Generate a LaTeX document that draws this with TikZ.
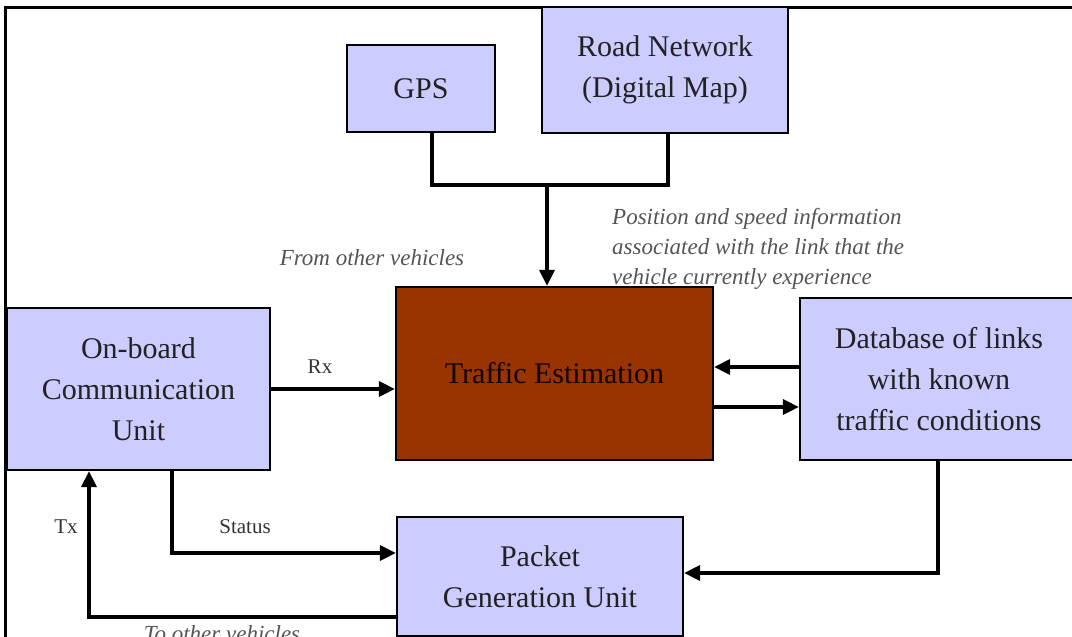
\documentclass[tikz,border=0pt]{standalone}
\usepackage{fontspec}
\setmainfont{Liberation Serif}
\usetikzlibrary{arrows.meta}
\definecolor{boxblue}{HTML}{CCCCFF}
\definecolor{tebrown}{HTML}{993300}
\definecolor{lblgray}{HTML}{555555}
\definecolor{txtdark}{HTML}{222222}
\begin{document}
\begin{tikzpicture}[x=1pt,y=-1pt,
  blk/.style={draw=black, line width=2.2pt, fill=boxblue, align=center,
    font=\fontsize{30}{41}\selectfont, text=txtdark, inner sep=0pt},
  conn/.style={line width=3.2pt, draw=black},
  arr/.style={conn, -{Triangle[length=16pt,width=15pt]}},
  ital/.style={font=\fontsize{23}{30}\selectfont\itshape, text=lblgray, inner sep=0pt},
  small/.style={font=\fontsize{21}{24}\selectfont, text=black!80, inner sep=0pt}]
\useasboundingbox (0,0) rectangle (1072,637);
\fill[white] (0,0) rectangle (1072,637);
\draw[line width=3pt] (5,650) -- (5,7) -- (1080,7);

% blocks
\node[blk, minimum width=148pt, minimum height=87pt] (gps) at (421,88.5) {GPS};
\node[blk, minimum width=246pt, minimum height=126pt] (road) at (665,70) {Road Network\\(Digital Map)};
\node[blk, fill=tebrown, text={black!90!tebrown}, minimum width=317pt, minimum height=173pt] (te) at (554.5,373.5) {Traffic Estimation};
\node[blk, minimum width=263pt, minimum height=162pt] (ob) at (138.5,389) {On-board\\Communication\\Unit};
\node[blk, minimum width=278pt, minimum height=162pt] (db) at (939,379) {Database of links\\with known\\traffic conditions};
\node[blk, minimum width=286pt, minimum height=119pt] (pg) at (540,576.5) {Packet\\Generation Unit};

% connectors
\coordinate (j1) at (432,185);
\coordinate (j2) at (668,185);
\coordinate (j) at (547,185);
\draw[conn] (gps.south -| j1) -- (j1) -- (j2) -- (road.south -| j2);
\draw[arr] (j) -- (te.north -| j);

\draw[arr] (ob.east) -- (ob.east -| te.west);

\coordinate (r1) at (806,367);
\coordinate (r2) at (713,407);
\draw[arr] (db.west |- r1) -- (te.east |- r1);
\draw[arr] (te.east |- r2) -- (db.west |- r2);

\coordinate (s1) at (172,553);
\draw[arr] (ob.south -| s1) -- (s1) -- (s1 -| pg.west);

\coordinate (t1) at (89,617);
\draw[arr] (pg.west |- t1) -- (t1) -- (t1 |- ob.south);

\coordinate (d1) at (938,573);
\draw[arr] (db.south -| d1) -- (d1) -- (d1 -| pg.east);

% labels
\node[small] (rx) at (320,367) {Rx};
\node[small] (status) at (245,527) {Status};
\node[small] (tx) at (66,527) {Tx};
\node[ital] (from) at (372,258) {From other vehicles};
\node[ital, align=left, anchor=west] (pos) at (612,249) {Position and speed information\\associated with the link that the\\vehicle currently experience};
\node[ital, anchor=base] (toother) at (222,641) {To other vehicles};
\end{tikzpicture}
\end{document}
